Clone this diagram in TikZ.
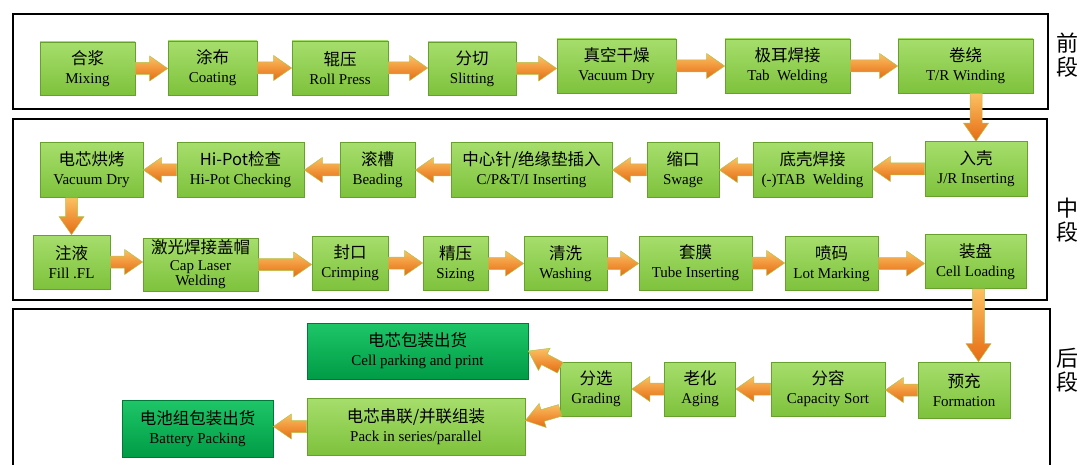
\documentclass[tikz,border=0pt]{standalone}
\usepackage{fontspec}
\setmainfont{Liberation Serif}
\newfontfamily\cjk{Noto Sans CJK SC}
\usetikzlibrary{calc}
\definecolor{gT}{RGB}{166,222,108}
\definecolor{gB}{RGB}{126,194,60}
\definecolor{gE}{RGB}{104,160,46}
\definecolor{dT}{RGB}{30,198,104}
\definecolor{dB}{RGB}{0,156,70}
\definecolor{dE}{RGB}{0,120,55}
\definecolor{aT}{RGB}{252,192,98}
\definecolor{aB}{RGB}{230,108,20}
\definecolor{aE}{RGB}{176,196,70}
\newcommand\zh[1]{{\cjk\fontsize{16.5pt}{19pt}\selectfont #1}}
\newcommand\barrow[2]{%
  \coordinate (bA) at (#1);
  \coordinate (bB) at (#2);
  \coordinate (bH) at ($(bB)!18pt!(bA)$);
  \shade[arrowfill] ($(bA)!6pt!90:(bB)$) -- ($(bH)!6pt!90:(bB)$) -- ($(bH)!12.5pt!90:(bB)$)
    -- (bB) -- ($(bH)!12.5pt!-90:(bB)$) -- ($(bH)!6pt!-90:(bB)$) -- ($(bA)!6pt!-90:(bB)$) -- cycle;}
\newcommand\rarrow[2]{\barrow{#1.east}{#1.east -| #2.west}}
\newcommand\larrow[2]{\barrow{#1.west}{#1.west -| #2.east}}
\begin{document}
\begin{tikzpicture}[x=1pt,y=-1pt,
  gbox/.style={rectangle, draw=gE, line width=0.7pt, top color=gT, bottom color=gB,
    inner sep=0pt, align=center, font=\fontsize{15pt}{19pt}\selectfont, text=black},
  dbox/.style={gbox, draw=dE, top color=dT, bottom color=dB},
  frm/.style={draw=black, line width=2.6pt},
  arrowfill/.style={top color=aT, bottom color=aB, draw=aE, line width=0.5pt},
  lab/.style={font=\cjk\fontsize{22pt}{24pt}\selectfont, align=center, inner sep=0pt}]
\useasboundingbox (0,0) rectangle (1084,465);
\fill[white] (0,0) rectangle (1084,465);
% frames
\draw[frm] (13,14) rectangle (1048,109);
\draw[frm] (13,119) rectangle (1047,300);
\draw[frm] (13,470) -- (13,309) -- (1050,309) -- (1050,470);
\node[lab] (L1) at (1067,55) {前\\段};
\node[lab] (L2) at (1067,220) {中\\段};
\node[lab] (L3) at (1067,370) {后\\段};
% row 1
\node[gbox, minimum width=95pt, minimum height=53pt] (mix) at (87.5,68.5) {\zh{合浆}\\Mixing};
\node[gbox, minimum width=89pt, minimum height=54pt] (coat) at (212.5,68) {\zh{涂布}\\Coating};
\node[gbox, minimum width=96pt, minimum height=54pt] (roll) at (340,68) {\zh{辊压}\\Roll Press};
\node[gbox, minimum width=88pt, minimum height=53pt] (slit) at (472,68.5) {\zh{分切}\\Slitting};
\node[gbox, minimum width=119pt, minimum height=54pt] (vac) at (616.5,66) {\zh{真空干燥}\\Vacuum Dry};
\node[gbox, minimum width=125pt, minimum height=54pt] (tab) at (787.5,66) {\zh{极耳焊接}\\Tab\ \ Welding};
\node[gbox, minimum width=135pt, minimum height=54pt] (wind) at (965.5,66) {\zh{卷绕}\\T/R Winding};
% row 2
\node[gbox, minimum width=102pt, minimum height=55pt] (jr) at (976,169) {\zh{入壳}\\J/R Inserting};
\node[gbox, minimum width=119pt, minimum height=55pt] (ntab) at (812.5,170) {\zh{底壳焊接}\\(-)TAB\ \ Welding};
\node[gbox, minimum width=72pt, minimum height=55pt] (swage) at (683,170) {\zh{缩口}\\Swage};
\node[gbox, minimum width=161pt, minimum height=55pt] (cpti) at (531.5,170) {\zh{中心针/绝缘垫插入}\\C/P\&T/I Inserting};
\node[gbox, minimum width=75pt, minimum height=55pt] (bead) at (377.5,170) {\zh{滚槽}\\Beading};
\node[gbox, minimum width=127pt, minimum height=55pt] (hipot) at (240.5,170) {\zh{Hi-Pot检查}\\Hi-Pot Checking};
\node[gbox, minimum width=103pt, minimum height=55pt] (vdry) at (91.5,170) {\zh{电芯烘烤}\\Vacuum Dry};
% row 3
\node[gbox, minimum width=77pt, minimum height=54pt] (fill) at (71.5,262) {\zh{注液}\\Fill .FL};
\node[gbox, minimum width=115pt, minimum height=53pt, font=\fontsize{15pt}{15pt}\selectfont] (cap) at (200.5,264.5) {\zh{激光焊接盖帽}\\[2pt]Cap Laser\\Welding};
\node[gbox, minimum width=76pt, minimum height=54pt] (crimp) at (350,263) {\zh{封口}\\Crimping};
\node[gbox, minimum width=65pt, minimum height=54pt] (size) at (455.5,263.5) {\zh{精压}\\Sizing};
\node[gbox, minimum width=83pt, minimum height=54pt] (wash) at (565.5,263.5) {\zh{清洗}\\Washing};
\node[gbox, minimum width=113pt, minimum height=54pt] (tube) at (695.5,263) {\zh{套膜}\\Tube Inserting};
\node[gbox, minimum width=93pt, minimum height=54pt] (lot) at (831.5,263.5) {\zh{喷码}\\Lot Marking};
\node[gbox, minimum width=101pt, minimum height=54pt] (cell) at (975.5,261.5) {\zh{装盘}\\Cell Loading};
% row 4
\node[gbox, minimum width=92pt, minimum height=56pt] (form) at (964,390) {\zh{预充}\\Formation};
\node[gbox, minimum width=114pt, minimum height=54pt] (capa) at (828,389) {\zh{分容}\\Capacity Sort};
\node[gbox, minimum width=71pt, minimum height=54pt] (aging) at (700,389) {\zh{老化}\\Aging};
\node[gbox, minimum width=71pt, minimum height=54pt] (grad) at (596,389) {\zh{分选}\\Grading};
\node[dbox, minimum width=221pt, minimum height=56pt] (cpk) at (417.5,351) {\zh{电芯包装出货}\\Cell parking and print};
\node[gbox, minimum width=218pt, minimum height=57pt] (pack) at (416,426.5) {\zh{电芯串联/并联组装}\\Pack in series/parallel};
\node[dbox, minimum width=151pt, minimum height=57pt] (bpk) at (197.5,428.5) {\zh{电池组包装出货}\\Battery Packing};
% arrows row 1
\rarrow{mix}{coat}
\rarrow{coat}{roll}
\rarrow{roll}{slit}
\rarrow{slit}{vac}
\rarrow{vac}{tab}
\rarrow{tab}{wind}
\barrow{wind.south -| jr.north}{jr.north}
% row 2
\larrow{jr}{ntab}
\larrow{ntab}{swage}
\larrow{swage}{cpti}
\larrow{cpti}{bead}
\larrow{bead}{hipot}
\larrow{hipot}{vdry}
\barrow{vdry.south -| fill.north}{fill.north}
% row 3
\rarrow{fill}{cap}
\rarrow{cap}{crimp}
\rarrow{crimp}{size}
\rarrow{size}{wash}
\rarrow{wash}{tube}
\rarrow{tube}{lot}
\rarrow{lot}{cell}
\barrow{[xshift=3pt]cell.south}{[xshift=3pt]cell.south |- form.north}
% row 4
\larrow{form}{capa}
\larrow{capa}{aging}
\larrow{aging}{grad}
\barrow{$(grad.north west)+(0,6)$}{cpk.east}
\barrow{$(grad.south west)+(0,-6)$}{$(pack.east)+(0,-6)$}
\larrow{pack}{bpk}
\end{tikzpicture}
\end{document}
